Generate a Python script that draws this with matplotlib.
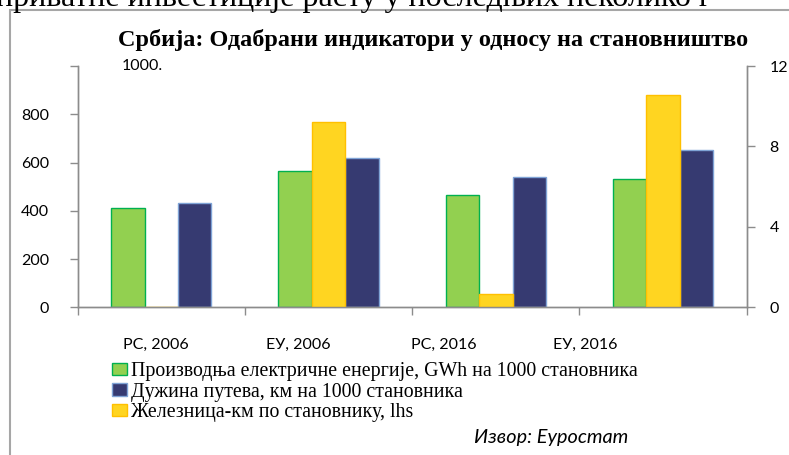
import numpy as np
import matplotlib.pyplot as plt
from matplotlib.patches import Rectangle, Patch

# --- Data ---
categories = ["РС, 2006", "ЕУ, 2006", "РС, 2016", "ЕУ, 2016"]
electricity = [412, 566, 464, 533]      # GWh на 1000 становника (left axis)
roads = [432, 619, 539, 651]            # км на 1000 становника (left axis)
railway = [0.0, 9.23, 0.65, 10.57]      # железница-км по становнику (right axis)

series_names = [
    "Производња електричне енергије, GWh на 1000 становника",
    "Дужина путева, км на 1000 становника",
    "Железница-км по становнику, lhs",
]

green, green_edge = "#92D050", "#00B050"
navy, navy_edge = "#363A71", "#7FA3D6"
yellow, yellow_edge = "#FFD521", "#FFC000"
axis_grey = "#8C8C8C"

W, H = 789, 455
fig = plt.figure(figsize=(W / 100, H / 100), dpi=100)

# page text cut off at the top
fig.text(-0.005, 1 - 6 / H, "приватне инвестиције расту у последњих неколико г",
         fontsize=23, family="Liberation Serif", va="baseline", ha="left")

# chart frame
fig.patches.append(Rectangle((10 / W, -0.1), 1.2, 1 - 10 / H + 0.1,
                             transform=fig.transFigure, fill=False,
                             edgecolor="#A6A6A6", lw=1.5))

ax = fig.add_axes([77.6 / W, 1 - 307.3 / H, (746.7 - 77.6) / W, (307.3 - 66) / H])
ax2 = ax.twinx()

x = np.arange(len(categories))
bw = 0.2
ax.bar(x - bw, electricity, bw, color=green, edgecolor=green_edge, linewidth=1)
ax.bar(x + bw, roads, bw, color=navy, edgecolor=navy_edge, linewidth=1)
ax2.bar(x, railway, bw, color=yellow, edgecolor=yellow_edge, linewidth=1)

ax.set_xlim(-0.5, len(categories) - 0.5)
ax.set_ylim(0, 1000)
ax2.set_ylim(0, 12)

tick_font = dict(family="Lato", size=11.5)

ax.set_yticks([0, 200, 400, 600, 800, 1000])
ax.set_yticklabels(["0", "200", "400", "600", "800", ""], **tick_font)
ax2.set_yticks([0, 4, 8, 12])
ax2.set_yticklabels(["0", "4", "8", "12"], **tick_font)
ax.text(0.096, 1000, "1000.", transform=ax.get_yaxis_transform(),
        ha="center", va="center", **tick_font)

ax.set_xticks(np.arange(len(categories) + 1) - 0.5)
ax.set_xticklabels([])
ax.tick_params(axis="x", direction="out", length=6, color=axis_grey, width=1)
ax.tick_params(axis="y", direction="out", length=6, color=axis_grey, width=1, pad=14.5)
ax2.tick_params(axis="y", direction="out", length=6, color=axis_grey, width=1, pad=10.5)

for a in (ax, ax2):
    a.spines["top"].set_visible(False)
    for s in ("left", "right", "bottom"):
        a.spines[s].set_color(axis_grey)
        a.spines[s].set_linewidth(1)

# category labels (sit a bit compressed under the plot, as in the source)
label_px = [156, 298, 443.5, 585]
for name, px in zip(categories, label_px):
    fig.text(px / W, 1 - 345 / H, name, ha="center", va="center", **tick_font)

fig.text(433.5 / W, 1 - 40 / H, "Србија: Одабрани индикатори у односу на становништво",
         ha="center", va="center", family="Liberation Serif", weight="bold", fontsize=17.5)

handles = [
    Patch(facecolor=green, edgecolor=green_edge),
    Patch(facecolor=navy, edgecolor=navy_edge),
    Patch(facecolor=yellow, edgecolor=yellow_edge),
]
fig.legend(handles, series_names, loc="upper left",
           bbox_to_anchor=(112 / W, 1 - 362 / H), frameon=False,
           prop=dict(family="Liberation Serif", size=14.3),
           handlelength=0.75, handleheight=0.6, handletextpad=0.2,
           labelspacing=0.08, borderpad=0, borderaxespad=0)

fig.text(551 / W, 1 - 438 / H, "Извор: Еуростат", ha="center", va="center",
         family="Lato", style="italic", fontsize=14.3)

plt.savefig("out.png", dpi=100)
